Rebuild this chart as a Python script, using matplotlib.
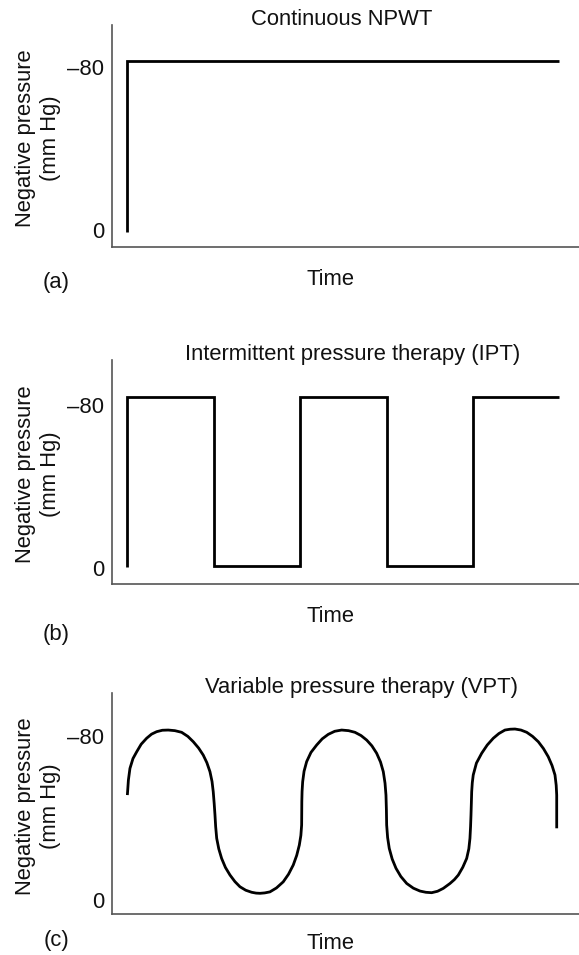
import matplotlib
matplotlib.use("Agg")
import matplotlib.pyplot as plt

plt.rcParams['font.family'] = ['Liberation Sans', 'DejaVu Sans']

# panel text
titles = ["Continuous NPWT", "Intermittent pressure therapy (IPT)", "Variable pressure therapy (VPT)"]
panel_tags = ["(a)", "(b)", "(c)"]
ylabel_text = "Negative pressure\n(mm Hg)"
xlabel_text = "Time"
ytick_values = [-80, 0]
ytick_labels = ["\u201380", "0"]

# (a) continuous NPWT, time in half-cycle units, pressure in mm Hg
cont_time = [0, 0, 5]
cont_pressure = [1, -82.5, -82.5]

# (b) intermittent: on / off cycles
ipt_time = [0, 0, 1, 1, 2, 2, 3, 3, 4, 4, 5]
ipt_pressure = [-0.5, -83.8, -83.8, -1, -1, -83.8, -83.8, -1, -1, -83.8, -83.8]

# (c) variable pressure
vpt_time = [0.000, 0.012, 0.030, 0.065, 0.108, 0.160, 0.223, 0.280, 0.339, 0.405,
            0.473, 0.550, 0.628, 0.700, 0.763, 0.825, 0.878, 0.920, 0.956, 0.980,
            0.994, 1.005, 1.014, 1.022, 1.034, 1.058, 1.091, 1.135, 1.188, 1.245,
            1.303, 1.370, 1.439, 1.490, 1.535, 1.590, 1.650, 1.725, 1.804, 1.865,
            1.920, 1.960, 1.990, 2.008, 2.017, 2.018, 2.019, 2.022, 2.029, 2.045,
            2.075, 2.125, 2.191, 2.255, 2.325, 2.400, 2.480, 2.560, 2.634, 2.705,
            2.770, 2.830, 2.885, 2.930, 2.962, 2.982, 2.993, 2.998, 3.001, 3.012,
            3.031, 3.065, 3.109, 3.165, 3.233, 3.310, 3.387, 3.455, 3.522, 3.590,
            3.656, 3.734, 3.785, 3.830, 3.882, 3.927, 3.952, 3.965, 3.972, 3.977,
            3.981, 3.985, 3.992, 4.003, 4.040, 4.101, 4.165, 4.235, 4.300, 4.370,
            4.430, 4.486, 4.555, 4.622, 4.690, 4.756, 4.815, 4.871, 4.915, 4.949,
            4.963, 4.969, 4.969]
vpt_pressure = [-51.2, -58.5, -64.2, -69.0, -72.3, -76.0, -78.9, -80.9, -82.1, -82.8,
                -82.9, -82.6, -81.8, -79.8, -77.2, -74.1, -70.7, -67.0, -62.6, -57.8,
                -52.8, -47.0, -41.5, -35.8, -30.1, -25.0, -20.3, -15.9, -12.2, -9.0,
                -6.5, -4.8, -3.8, -3.4, -3.3, -3.5, -4.0, -5.9, -8.9, -12.6,
                -17.1, -21.8, -26.8, -31.5, -36.6, -42.0, -48.0, -53.0, -57.7, -62.8,
                -67.5, -72.0, -75.6, -78.6, -80.8, -82.3, -82.9, -82.6, -81.8, -80.2,
                -78.0, -75.2, -71.6, -67.3, -62.6, -57.0, -51.2, -44.0, -36.6, -30.5,
                -25.2, -20.0, -15.5, -11.5, -8.1, -5.8, -4.4, -3.8, -3.6, -4.3,
                -5.7, -8.1, -10.0, -12.2, -16.0, -20.3, -25.0, -30.1, -35.8, -41.5,
                -47.0, -52.8, -57.2, -61.0, -66.8, -71.6, -75.6, -78.9, -81.2, -82.9,
                -83.3, -83.4, -82.9, -81.8, -79.8, -77.2, -73.9, -69.9, -65.6, -61.0,
                -56.0, -51.2, -35.0]

series = [(cont_time, cont_pressure), (ipt_time, ipt_pressure), (vpt_time, vpt_pressure)]
joins = ["miter", "miter", "round"]

# layout (figure fractions) and per-panel settings
axes_rects = [[0.1934, 0.7414, 0.8066, 0.2325],
              [0.1934, 0.3885, 0.8066, 0.2346],
              [0.1934, 0.0429, 0.8066, 0.2311]]
ylims = [(8.3, -100.4), (7.7, -102.1), (6.8, -100.8)]
title_x = [0.4925, 0.515, 0.535]
tag_offsets = [-25.9, -36.7, -18.7]
time_offsets = [-27.4, -27.4, -25.5]

FS = 15.8
fig = plt.figure(figsize=(5.79, 9.55), dpi=100)

for i in range(3):
    ax = fig.add_axes(axes_rects[i])
    t, p = series[i]
    ax.plot(t, p, color="black", lw=2.0, solid_joinstyle=joins[i], solid_capstyle="butt")
    ax.set_xlim(-0.178, 5.227)
    ax.set_ylim(*ylims[i])
    for s in ["top", "right"]:
        ax.spines[s].set_visible(False)
    for s in ["left", "bottom"]:
        ax.spines[s].set_color("#555555")
        ax.spines[s].set_linewidth(1.2)
    ax.set_xticks([])
    ax.set_yticks(ytick_values)
    ax.set_yticklabels(ytick_labels, fontsize=FS, color="#111111")
    ax.tick_params(axis="y", length=0, pad=5.4)

    ax.text(title_x[i], 1.0, titles[i], transform=ax.transAxes, ha="center",
            va="baseline", fontsize=FS, color="#111111")
    ax.annotate(xlabel_text, xy=(0.468, 0), xycoords="axes fraction",
                xytext=(0, time_offsets[i]), textcoords="offset points",
                ha="center", va="baseline", fontsize=FS, color="#111111")
    ax.annotate(panel_tags[i], xy=(0, 0), xycoords="axes fraction",
                xytext=(-40.3, tag_offsets[i]), textcoords="offset points",
                ha="center", va="center", fontsize=FS, color="#111111")
    ax.annotate(ylabel_text, xy=(0, 0.49), xycoords="axes fraction", xytext=(-53.3, 0),
                textcoords="offset points", ha="center", va="center", rotation=90,
                multialignment="center", fontsize=FS, color="#111111")

fig.savefig("out.png", dpi=100)
